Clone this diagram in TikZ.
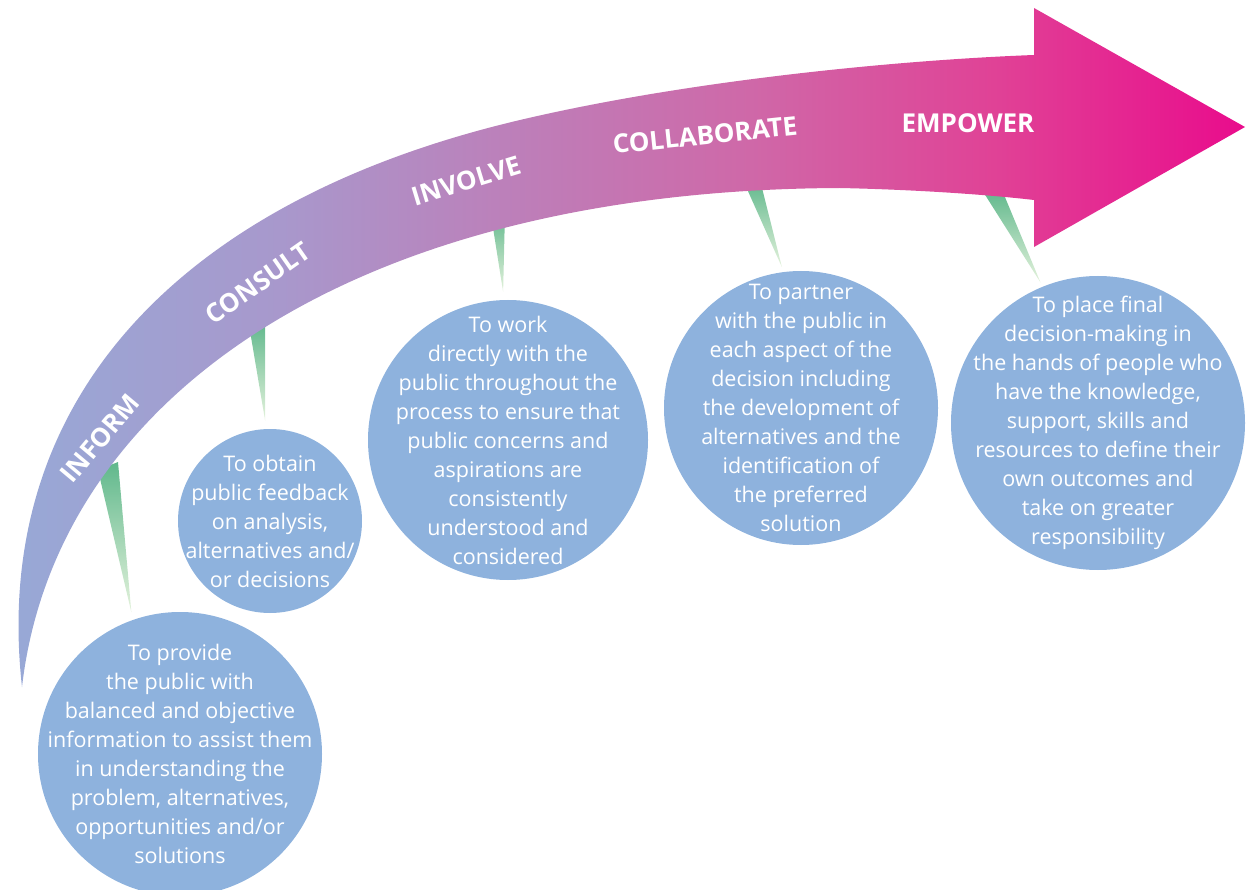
\documentclass[tikz,border=0pt]{standalone}
\usepackage{fontspec}
\setmainfont{Open Sans}
\usepackage{tikz}
\usetikzlibrary{calc}

\definecolor{arrA}{RGB}{150,170,215}
\definecolor{arrB}{RGB}{168,152,204}
\definecolor{arrC}{RGB}{188,128,186}
\definecolor{arrD}{RGB}{207,104,168}
\definecolor{arrE}{RGB}{224,66,150}
\definecolor{arrF}{RGB}{233,12,140}
\pgfdeclarehorizontalshading{arrowfade}{100bp}{color(0bp)=(arrA); color(25bp)=(arrA); color(36.6bp)=(arrB); color(45.5bp)=(arrC); color(55.3bp)=(arrD); color(65bp)=(arrE); color(75bp)=(arrF); color(100bp)=(arrF)}

\begin{document}
\begin{tikzpicture}[
            x=1pt, y=-1pt,
            goal/.style={circle,fill=goalblue,inner sep=0pt},
            goaltext/.style={text=white,align=center,inner sep=0pt,font=\fontsize{21.5}{29}\selectfont},
            stage/.style={text=white,font=\fontsize{26}{26}\selectfont\bfseries},
            pointer/.style={top color=ptrtop,bottom color=ptrbot}
        ]
            \colorlet{goalblue}{rgb,255:red,142;green,178;blue,221}
            \colorlet{ptrtop}{rgb,255:red,96;green,184;blue,140}
            \colorlet{ptrbot}{rgb,255:red,228;green,242;blue,220}

            \useasboundingbox (0,0) rectangle (1253,890);

            \node (inform)  [goal,minimum size=284pt] at (180,754)  {};
            \node (consult) [goal,minimum size=184pt] at (270,521)  {};
            \node (involve) [goal,minimum size=280pt] at (508,440)  {};
            \node (collab)  [goal,minimum size=274pt] at (801,408)  {};
            \node (empower) [goal,minimum size=294pt] at (1098,423) {};

            \node (tinform)  [goaltext] at (inform)  {To provide\\the public with\\balanced and objective\\information to assist them\\in understanding the\\problem, alternatives,\\opportunities and/or\\solutions};
            \node (tconsult) [goaltext] at (consult) {To obtain\\public feedback\\on analysis,\\alternatives and/\\or decisions};
            \node (tinvolve) [goaltext] at (involve) {To work\\directly with the\\public throughout the\\process to ensure that\\public concerns and\\aspirations are\\consistently\\understood and\\considered};
            \node (tcollab)  [goaltext] at (collab)  {To partner\\with the public in\\each aspect of the\\decision including\\the development of\\alternatives and the\\identification of\\the preferred\\solution};
            \node (tempower) [goaltext] at (empower) {To place final\\decision-making in\\the hands of people who\\have the knowledge,\\support, skills and\\resources to define their\\own outcomes and\\take on greater\\responsibility};

            % green pointers, under the arrow
            \coordinate (pinformL)  at (98,470);
            \coordinate (pinformR)  at (118,462);
            \coordinate (pconsultL) at (249,325);
            \coordinate (pconsultR) at (265,322);
            \coordinate (pinvolveL) at (491,215);
            \coordinate (pinvolveR) at (505,212);
            \coordinate (pcollabL)  at (743,180);
            \coordinate (pcollabR)  at (760,180);
            \coordinate (pempowerL) at (982,190);
            \coordinate (pempowerR) at (1002,190);
            \shade [pointer] (pinformL)  -- (pinformR)  -- ([yshift=8pt]inform.110)  -- cycle;
            \shade [pointer] (pconsultL) -- (pconsultR) -- ([yshift=8pt]consult.93)  -- cycle;
            \shade [pointer] (pinvolveL) -- (pinvolveR) -- ([yshift=8pt]involve.92)  -- cycle;
            \shade [pointer] (pcollabL)  -- (pcollabR)  -- ([yshift=5pt]collab.98)   -- cycle;
            \shade [pointer] (pempowerL) -- (pempowerR) -- ([yshift=5pt]empower.113) -- cycle;

            % the arrow
            \shade [shading=arrowfade]
                (22,687) .. controls (-10,400) and (180,200) .. (520,120)
                .. controls (690,80) and (900,60) .. (1034,55)
                -- (1034,8) -- (1245,127) -- (1034,247) -- (1034,200)
                .. controls (1000,196) and (930,190) .. (840,188)
                .. controls (350,190) and (55,400) .. (22,687) -- cycle;

            \node (linform)  [stage,rotate=50] at (100,438) {INFORM};
            \node (lconsult) [stage,rotate=35] at (258,283) {CONSULT};
            \node (linvolve) [stage,rotate=17] at (466,181) {INVOLVE};
            \node (lcollab)  [stage,rotate=6]  at (705,135) {COLLABORATE};
            \node (lempower) [stage]           at (968,123) {EMPOWER};
        \end{tikzpicture}
\end{document}
